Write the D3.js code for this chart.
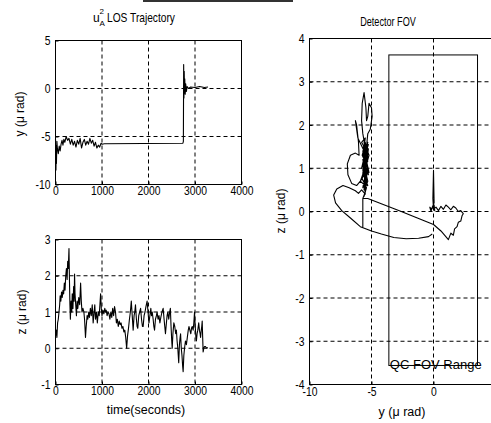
<!DOCTYPE html>
<html>
<head>
<meta charset="utf-8">
<script src="https://cdnjs.cloudflare.com/ajax/libs/d3/7.8.5/d3.min.js"></script>
<style>
  body { margin: 0; background: #fff; overflow: hidden; }
  svg text { font-family: "Liberation Sans", Arial, sans-serif; fill: #000; }
</style>
</head>
<body>
<div id="chart"></div>
<script>
// ---- data ----
var timeTicks = [0, 1000, 2000, 3000, 4000];
var yTicks = [-10, -5, 0, 5];
var zTicks = [-1, 0, 1, 2, 3];
var fovYTicks = [-10, -5, 0, 5];
var fovZTicks = [-4, -3, -2, -1, 0, 1, 2, 3, 4];

// y (micro rad) against time
var yTrack = [
  [0,-5.2],[5,-7.5],[10,-8.5],[15,-6],[20,-7.8],[30,-5.5],[40,-6.2],[60,-6.8],[80,-6.0],[100,-6.5],
  [120,-5.8],[140,-5.4],[160,-5.9],[180,-5.3],[200,-5.6],[230,-5.0],[260,-5.4],[290,-5.2],[320,-5.8],
  [350,-5.3],[380,-5.9],[410,-5.5],[440,-6.1],[470,-5.4],[500,-5.8],[530,-5.2],[560,-6.2],[590,-5.6],
  [620,-5.3],[650,-5.9],[680,-5.5],[710,-5.8],[740,-5.2],[770,-5.7],[800,-5.4],[830,-6.0],[860,-5.6],
  [890,-6.2],[920,-5.9],[950,-6.1],[980,-5.7],[1000,-5.8],[1050,-5.75],[2740,-5.7],[2750,-5.5],
  [2756,2.5],[2762,-1.0],[2768,1.8],[2774,-0.5],[2780,1.0],[2790,-0.6],[2800,0.5],[2815,-0.3],
  [2830,0.2],[2860,0.0],[2900,0.15],[3000,0.1],[3100,0.2],[3200,0.1],[3280,0.15]
];

// z (micro rad) against time
var zTrack = [
  [0,0.35],[15,0.5],[30,0.3],[45,0.7],[60,0.8],[75,1.0],[90,1.2],[100,1.45],[115,1.3],[130,1.55],
  [145,1.4],[160,1.6],[175,1.5],[190,1.8],[205,1.6],[220,2.0],[235,2.2],[250,1.9],[262,2.4],[275,2.2],
  [290,2.75],[300,1.9],[310,1.2],[320,0.8],[335,1.3],[350,1.0],[360,1.5],[375,1.1],[390,1.7],[400,1.3],
  [410,2.05],[420,1.5],[435,1.2],[450,0.9],[465,1.3],[480,1.1],[500,1.4],[520,1.2],[540,1.8],[555,1.3],
  [570,1.0],[590,1.1],[610,1.0],[625,0.8],[645,0.3],[660,0.6],[680,0.9],[695,0.8],[715,1.0],[730,0.85],
  [750,1.1],[770,0.9],[790,1.2],[810,0.7],[830,1.0],[845,1.2],[860,0.8],[880,1.0],[900,0.7],[920,1.0],
  [940,0.9],[955,1.2],[970,1.5],[985,1.1],[1000,0.9],[1020,1.05],[1040,0.95],[1060,1.1],[1075,1.0],
  [1090,1.05],[1110,0.9],[1130,1.0],[1150,0.95],[1170,0.8],[1190,1.0],[1210,0.85],[1230,1.1],[1250,0.9],
  [1270,1.15],[1290,1.0],[1310,0.7],[1330,0.8],[1350,0.6],[1370,0.75],[1390,0.65],[1410,0.7],[1430,0.55],
  [1450,0.6],[1470,0.45],[1490,0.5],[1510,0.3],[1530,0.0],[1550,0.35],[1570,0.55],[1590,0.8],[1610,1.0],
  [1630,1.3],[1650,0.9],[1670,0.5],[1690,0.9],[1705,1.0],[1720,1.2],[1740,0.8],[1755,0.6],[1770,0.55],
  [1790,0.9],[1810,1.0],[1830,1.1],[1850,0.8],[1870,0.6],[1885,0.6],[1905,0.9],[1925,1.0],[1945,1.15],
  [1970,1.3],[1990,1.0],[2010,0.7],[2030,0.9],[2050,1.1],[2065,0.9],[2080,1.0],[2100,0.8],[2115,0.6],
  [2130,0.5],[2150,0.8],[2170,0.9],[2185,1.0],[2205,0.8],[2225,0.9],[2245,0.7],[2265,0.85],[2290,1.0],
  [2315,1.1],[2335,0.8],[2350,0.6],[2365,0.4],[2385,0.7],[2400,0.9],[2415,1.0],[2435,0.8],[2455,1.0],
  [2470,1.1],[2485,0.6],[2500,0.2],[2510,0.0],[2525,0.4],[2545,0.7],[2565,0.6],[2585,0.4],[2600,0.5],
  [2615,0.2],[2630,0.0],[2650,-0.4],[2665,0.1],[2680,0.3],[2690,0.4],[2705,0.0],[2720,-0.2],[2735,-0.5],
  [2745,-0.65],[2760,-0.2],[2775,0.0],[2795,0.2],[2815,0.1],[2835,0.3],[2855,0.5],[2870,0.6],[2890,0.5],
  [2910,0.4],[2925,0.55],[2940,0.6],[2960,0.5],[2975,0.7],[2990,1.0],[3005,0.6],[3020,0.3],[3030,0.2],
  [3045,0.4],[3060,0.5],[3080,0.7],[3095,0.5],[3110,0.4],[3120,0.3],[3135,0.5],[3145,0.6],[3155,0.75],
  [3165,0.3],[3175,-0.1],[3190,0.0],[3205,0.05],[3225,0.05],[3245,0.0],[3260,0.02],[3275,0.0]
];

// detector plane trajectory, [y, z]
var fovTrack = [
  [-0.1,-0.52],[-0.4,-0.58],[-1.2,-0.62],[-2.2,-0.63],[-3.2,-0.6],[-4.2,-0.52],[-5.0,-0.45],[-5.9,-0.35],
  [-6.7,-0.15],[-7.4,0.02],[-7.9,0.2],[-8.05,0.38],[-7.8,0.52],[-7.3,0.6],[-6.8,0.55],[-6.3,0.48],[-6.05,0.42],
  [-5.8,0.5],[-5.5,0.4],[-5.6,0.7],[-5.3,0.6],[-5.7,0.9],[-5.4,0.8],[-5.6,1.1],[-5.2,0.9],[-5.5,1.3],
  [-5.8,1.0],[-5.4,1.5],[-5.6,1.2],[-5.3,1.6],[-5.7,1.4],[-5.5,0.9],[-5.9,0.7],[-5.4,1.1],[-5.6,1.6],
  [-5.2,1.3],[-5.5,1.0],[-5.7,1.2],[-5.3,0.7],[-5.6,0.5],[-5.4,1.4],[-5.8,1.6],[-5.5,1.7],[-5.6,1.5],
  [-5.45,0.65],[-5.65,1.05],[-5.25,0.85],[-5.55,1.45],[-5.35,1.05],[-5.75,1.3],[-5.5,1.55],[-5.3,1.35],
  [-5.6,0.95],[-5.4,0.7],[-5.7,0.55],[-5.5,0.85],[-5.35,1.25],[-5.65,1.5],[-5.45,1.1],[-5.25,1.45],
  [-5.55,0.75],[-5.4,0.95],[-5.6,1.35],[-5.3,1.15],[-5.5,1.6],[-5.7,1.1],[-5.45,0.5],[-5.55,1.0],
  [-5.35,0.6],[-5.65,0.85],[-5.5,1.2],[-5.3,1.45],[-5.6,1.65],[-5.4,1.3],
  [-5.7,1.8],[-5.8,2.1],[-5.75,2.5],[-5.6,2.75],[-5.45,2.4],[-5.4,2.1],[-5.3,2.2],[-5.2,2.5],[-5.0,2.4],
  [-4.95,2.2],[-5.1,1.9],[-5.3,1.8],[-5.4,1.5],[-5.6,1.4],[-6.1,1.7],[-6.3,2.1],[-6.2,2.0],[-6.05,1.6],
  [-6.0,1.3],[-6.3,1.35],[-6.7,1.3],[-6.95,1.1],[-6.9,0.85],[-6.6,0.65],[-6.2,0.6],[-5.9,0.7],
  [-5.5,0.6],[-5.3,1.0],[-5.6,0.8],[-5.35,1.2],[-5.7,0.95],[-5.45,1.35],[-5.25,1.55],[-5.55,1.25],
  [-5.75,0.75],[-5.4,0.55],[-5.6,0.35],[-5.5,0.45],[-5.7,0.3],[-5.7,-0.35],[-5.7,0.3],
  [-5.3,0.3],[-2.6,0.0],[0,-0.3],[0.6,-0.45],[1.2,-0.65],[1.4,-0.5],[1.6,-0.55],[1.7,-0.4],[1.9,-0.35],
  [2.0,-0.25],[2.2,-0.22],[2.3,-0.1],[2.4,-0.05],[2.2,0.02],[2.0,0.0],[1.8,0.08],[1.6,0.12],[1.4,0.04],
  [1.2,0.1],[1.0,0.15],[0.8,0.05],[0.6,0.12],[0.4,0.02],[0.2,0.1],[0,0.05],[-0.05,0.3],[0.0,0.95],
  [0.05,0.2],[-0.1,0.1],[-0.2,0.0],[-0.3,0.1],[-0.15,0.05],[0.05,0.15],[0.1,0.02],[0.0,0.05]
];

// QC field of view box: [yMin, yMax], [zMin, zMax]
var fovYRange = [-3.6, 3.55];
var fovZRange = [-3.56, 3.62];

var W = 491, H = 423;
var squeeze = 0.83; // the scanned lettering is narrower than Arial

var svg = d3.select("#chart")
  .append("svg")
    .attr("width", W)
    .attr("height", H);

svg.append("rect").attr("width", W).attr("height", H).attr("fill", "#fff");

// scan artefact at the top edge
svg.append("rect")
  .attr("x", 143).attr("y", 0).attr("width", 150).attr("height", 2)
  .attr("fill", "#333");

// draws box, dashed grid, inside ticks and labels; returns the scales
function panel(p) {
  var x = d3.scaleLinear().domain(p.xDomain).range([p.left, p.right]);
  var y = d3.scaleLinear().domain(p.yDomain).range([p.bottom, p.top]);
  var g = svg.append("g");

  var xIn = p.xTicks.filter(function(d) { return d > p.xDomain[0] && d < p.xDomain[1]; });
  var yIn = p.yTicks.filter(function(d) { return d > p.yDomain[0] && d < p.yDomain[1]; });

  g.selectAll(".vgrid").data(xIn).enter().append("line")
    .attr("x1", function(d) { return x(d); }).attr("x2", function(d) { return x(d); })
    .attr("y1", p.top).attr("y2", p.bottom)
    .attr("stroke", "#000").attr("stroke-width", 1).attr("stroke-dasharray", "4,3");
  g.selectAll(".hgrid").data(yIn).enter().append("line")
    .attr("y1", function(d) { return y(d); }).attr("y2", function(d) { return y(d); })
    .attr("x1", p.left).attr("x2", p.right)
    .attr("stroke", "#000").attr("stroke-width", 1).attr("stroke-dasharray", "4,3");

  // only label the ticks that fall inside the window
  var xShown = p.xTicks.filter(function(d) { return x(d) < W; });
  var xa = g.append("g")
    .attr("transform", "translate(0," + p.bottom + ")")
    .call(d3.axisBottom(x).tickValues(xShown).tickFormat(function(d) { return String(d); })
      .tickSizeInner(-3).tickSizeOuter(0).tickPadding(p.xPad || 2));
  var ya = g.append("g")
    .attr("transform", "translate(" + p.left + ",0)")
    .call(d3.axisLeft(y).tickValues(p.yTicks).tickFormat(function(d) { return String(d); })
      .tickSizeInner(-3).tickSizeOuter(0).tickPadding(5));
  [xa, ya].forEach(function(a) {
    a.select(".domain").remove();
    a.selectAll("line").attr("stroke", "#000");
    a.selectAll("text")
      .style("font-size", "12.5px").style("font-family", "Liberation Sans, Arial, sans-serif")
      .attr("fill", "#000");
  });
  xa.selectAll("text").attr("transform", "scale(" + squeeze + ",1)");
  ya.selectAll("text").attr("x", -5 / squeeze).attr("transform", "scale(" + squeeze + ",1)");

  g.append("rect")
    .attr("x", p.left).attr("y", p.top)
    .attr("width", p.right - p.left).attr("height", p.bottom - p.top)
    .attr("fill", "none").attr("stroke", "#000").attr("stroke-width", 1);

  return { x: x, y: y, g: g };
}

function track(pn, data, w) {
  pn.g.append("path")
    .datum(data)
    .attr("fill", "none")
    .attr("stroke", "#000")
    .attr("stroke-width", w || 1)
    .attr("stroke-linejoin", "round")
    .attr("d", d3.line()
      .x(function(d) { return pn.x(d[0]); })
      .y(function(d) { return pn.y(d[1]); }));
}

// text placed at (x, y), squeezed sideways, optionally turned upright
function label(txt, x, y, size, opts) {
  opts = opts || {};
  var s = opts.squeeze || 1;
  var tf = "translate(" + x + "," + y + ")" + (opts.rotate ? " rotate(-90)" : "") + " scale(" + s + ",1)";
  return svg.append("text")
    .text(txt)
    .attr("text-anchor", opts.anchor || "middle")
    .attr("transform", tf)
    .style("font-size", size + "px");
}

// top left: y against time
var p1 = panel({ left: 55.5, right: 241.5, top: 40.5, bottom: 184.5,
  xDomain: [0, 4000], yDomain: [-10, 5], xTicks: timeTicks, yTicks: yTicks });
track(p1, yTrack, 1.1);

// bottom left: z against time
var p2 = panel({ left: 55.5, right: 241.5, top: 239.5, bottom: 384.5,
  xDomain: [0, 4000], yDomain: [-1, 3], xTicks: timeTicks, yTicks: zTicks });
track(p2, zTrack, 1.1);

// right: detector plane
var p3 = panel({ left: 309.5, right: 495.5, top: 38.5, bottom: 384.5, xPad: 3,
  xDomain: [-10, 5], yDomain: [-4, 4], xTicks: fovYTicks, yTicks: fovZTicks });
p3.g.append("rect")
  .attr("x", p3.x(fovYRange[0])).attr("y", p3.y(fovZRange[1]))
  .attr("width", p3.x(fovYRange[1]) - p3.x(fovYRange[0]))
  .attr("height", p3.y(fovZRange[0]) - p3.y(fovZRange[1]))
  .attr("fill", "none").attr("stroke", "#000").attr("stroke-width", 1);
track(p3, fovTrack, 1.1);
label("QC FOV Range", p3.x(fovYRange[0]) + 1, p3.y(fovZRange[0]) + 4, 13, { anchor: "start" });

// titles and axis labels
label("u", 93, 22, 12, { anchor: "start" });
label("2", 99.5, 14, 8, { anchor: "start" });
label("A", 99.5, 26, 8, { anchor: "start" });
label("LOS Trajectory", 107, 22, 12, { anchor: "start", squeeze: 0.85 });
label("Detector FOV", 388, 26, 12, { squeeze: 0.76 });

label("y (\u03bc rad)", 24, 114, 12, { rotate: true });
label("z (\u03bc rad)", 26, 312, 12, { rotate: true });
label("z (\u03bc rad)", 285, 211, 12, { rotate: true });
label("time(seconds)", 146, 414, 12.5);
label("y (\u03bc rad)", 402, 416, 12.5);
</script>
</body>
</html>
